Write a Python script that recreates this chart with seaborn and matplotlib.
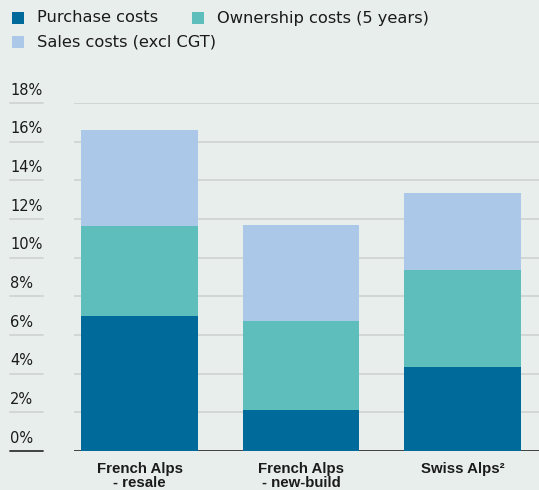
import matplotlib
matplotlib.use("Agg")
import matplotlib.pyplot as plt
import matplotlib.transforms as mtransforms
from matplotlib.patches import Rectangle
import seaborn as sns
import pandas as pd

categories = ["French Alps\n- resale", "French Alps\n- new-build", "Swiss Alps\u00b2"]
purchase = [7.0, 2.1, 4.35]
ownership = [4.65, 4.65, 5.0]
sales = [4.95, 4.95, 4.0]
series_names = ["Purchase costs", "Ownership costs (5 years)", "Sales costs (excl CGT)"]
ytick_vals = [0, 2, 4, 6, 8, 10, 12, 14, 16, 18]
ytick_labels = [f"{v}%" for v in ytick_vals]

c_purchase = "#006a9a"
c_owner = "#5ebebb"
c_sales = "#abc8e8"
bg = "#e8eeec"
grid_c = "#d2d7d5"
txt_c = "#1b1b1b"

sns.set_theme(style="white")
plt.rcParams["font.family"] = ["DejaVu Sans"]

W, H = 539, 490
fig = plt.figure(figsize=(W / 100, H / 100), dpi=100, facecolor=bg)
ax_left, ax_right, ax_bot, ax_top = 74, 539, 451, 103
ax = fig.add_axes([ax_left / W, (H - ax_bot) / H, (ax_right - ax_left) / W, (ax_bot - ax_top) / H])
ax.set_facecolor(bg)

df = pd.DataFrame({"cat": categories,
                   "p": purchase,
                   "po": [a + b for a, b in zip(purchase, ownership)],
                   "pos": [a + b + c for a, b, c in zip(purchase, ownership, sales)]})

bw = 0.724
for col, color in [("pos", c_sales), ("po", c_owner), ("p", c_purchase)]:
    sns.barplot(data=df, x="cat", y=col, color=color, width=bw, ax=ax,
                saturation=1, edgecolor="none", linewidth=0, zorder=3)

ax.set_xlim(-0.406, 2.474)
ax.set_ylim(0, 18)
for s in ax.spines.values():
    s.set_visible(False)
ax.set_xlabel("")
ax.set_ylabel("")
ax.set_yticks(ytick_vals)
ax.set_yticklabels([])
ax.tick_params(axis="y", length=0)
ax.tick_params(axis="x", length=0, pad=8, labelcolor=txt_c)
for t in ax.get_xticklabels():
    t.set_fontfamily(["Liberation Sans", "DejaVu Sans"])
    t.set_fontweight("bold")
    t.set_fontsize(10.8)
    t.set_linespacing(0.95)

for v in ytick_vals[1:]:
    ax.axhline(v, color=grid_c, lw=1.4, zorder=1)
ax.axhline(0, color="#333333", lw=1.3, zorder=2)

trans = mtransforms.blended_transform_factory(ax.transAxes, ax.transData)
x0 = (10 - ax_left) / (ax_right - ax_left)
x1 = (43 - ax_left) / (ax_right - ax_left)
for v, lab in zip(ytick_vals, ytick_labels):
    ax.text(x0, v + 0.28, lab, transform=trans, ha="left", va="bottom",
            fontsize=10.5, color=txt_c)
    ax.plot([x0, x1], [v, v], transform=trans, clip_on=False,
            color=("#333333" if v == 0 else grid_c), lw=(1.3 if v == 0 else 1.4))

# legend (flow layout)
items = [(series_names[0], c_purchase, 12, 18), (series_names[1], c_owner, 192, 18),
         (series_names[2], c_sales, 12, 42)]
for name, color, px, py in items:
    fig.patches.append(Rectangle((px / W, 1 - (py + 6) / H), 12 / W, 12 / H,
                                 transform=fig.transFigure, facecolor=color,
                                 edgecolor="none"))
    fig.text((px + 25) / W, 1 - py / H, name, ha="left", va="center",
             fontsize=11.7, color=txt_c)

fig.savefig("out.png", dpi=100, facecolor=bg)
